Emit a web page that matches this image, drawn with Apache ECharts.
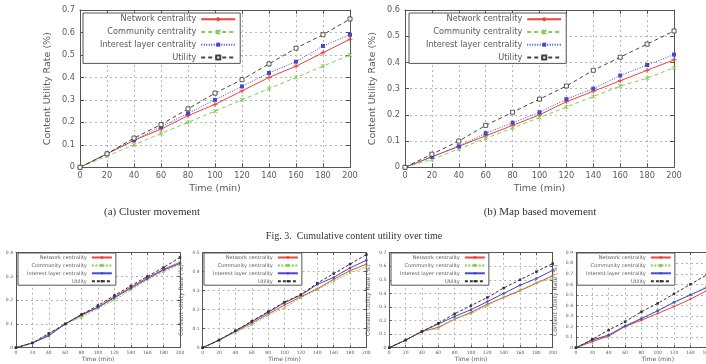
<!DOCTYPE html>
<html>
<head>
<meta charset="utf-8">
<script src="https://cdn.jsdelivr.net/npm/echarts@6/dist/echarts.min.js"></script>
<style>
  html, body { margin: 0; padding: 0; background: #fff; }
  #main { width: 706px; height: 364px; }
</style>
</head>
<body>
<div id="main"></div>
<script>
// x 轴: 时间 (min)
var timeSteps = [0, 20, 40, 60, 80, 100, 120, 140, 160, 180, 200];
var seriesNames = ['Network centrality', 'Community centrality', 'Interest layer centrality', 'Utility'];

// (a) Cluster movement
var clusterNetwork   = [0, 0.06, 0.12, 0.17, 0.23, 0.28, 0.34, 0.40, 0.45, 0.51, 0.57];
var clusterCommunity = [0, 0.05, 0.10, 0.15, 0.20, 0.25, 0.30, 0.35, 0.40, 0.45, 0.50];
var clusterInterest  = [0, 0.06, 0.12, 0.18, 0.24, 0.30, 0.36, 0.42, 0.47, 0.54, 0.59];
var clusterUtility   = [0, 0.06, 0.13, 0.19, 0.26, 0.33, 0.39, 0.46, 0.53, 0.59, 0.66];

// (b) Map based movement
var mapNetwork   = [0, 0.04, 0.08, 0.12, 0.16, 0.20, 0.25, 0.29, 0.33, 0.37, 0.41];
var mapCommunity = [0, 0.03, 0.07, 0.11, 0.15, 0.19, 0.23, 0.27, 0.31, 0.34, 0.38];
var mapInterest  = [0, 0.04, 0.08, 0.13, 0.17, 0.21, 0.26, 0.30, 0.35, 0.39, 0.43];
var mapUtility   = [0, 0.05, 0.10, 0.16, 0.21, 0.26, 0.31, 0.37, 0.42, 0.47, 0.52];

// 下面一排小图
var row1Network   = [0, 0.02, 0.053, 0.10, 0.136, 0.17, 0.215, 0.254, 0.295, 0.33, 0.36];
var row1Community = [0, 0.02, 0.06, 0.10, 0.128, 0.165, 0.20, 0.243, 0.285, 0.32, 0.35];
var row1Interest  = [0, 0.02, 0.05, 0.10, 0.14, 0.17, 0.21, 0.25, 0.29, 0.327, 0.355];
var row1Utility   = [0, 0.02, 0.06, 0.10, 0.14, 0.178, 0.22, 0.26, 0.30, 0.338, 0.38];

var row2Network   = [0, 0.04, 0.085, 0.13, 0.177, 0.225, 0.268, 0.31, 0.36, 0.405, 0.44];
var row2Community = [0, 0.04, 0.08, 0.12, 0.17, 0.21, 0.263, 0.305, 0.35, 0.395, 0.425];
var row2Interest  = [0, 0.04, 0.088, 0.137, 0.186, 0.238, 0.277, 0.333, 0.37, 0.42, 0.46];
var row2Utility   = [0, 0.04, 0.09, 0.14, 0.19, 0.24, 0.28, 0.34, 0.39, 0.44, 0.49];

var row3Network   = [0, 0.056, 0.12, 0.15, 0.21, 0.26, 0.32, 0.37, 0.42, 0.475, 0.53];
var row3Community = [0, 0.056, 0.12, 0.14, 0.215, 0.25, 0.31, 0.375, 0.425, 0.48, 0.51];
var row3Interest  = [0, 0.056, 0.12, 0.175, 0.23, 0.28, 0.34, 0.40, 0.46, 0.51, 0.57];
var row3Utility   = [0, 0.056, 0.12, 0.18, 0.25, 0.31, 0.37, 0.44, 0.50, 0.56, 0.62];

var row4Network   = [0, 0.057, 0.11, 0.20, 0.26, 0.325, 0.39, 0.46, 0.54, 0.61, 0.68];
var row4Community = [0, 0.073, 0.12, 0.205, 0.28, 0.35, 0.43, 0.50, 0.58, 0.65, 0.72];
var row4Interest  = [0, 0.073, 0.12, 0.205, 0.275, 0.35, 0.43, 0.50, 0.57, 0.64, 0.71];
var row4Utility   = [0, 0.08, 0.167, 0.246, 0.34, 0.42, 0.51, 0.60, 0.69, 0.78, 0.87];

// y 轴上限
var yMaxList = [0.7, 0.6, 0.4, 0.5, 0.7, 0.9];

var captionA = '(a) Cluster movement';
var captionB = '(b) Map based movement';
var figCaption = 'Fig. 3.  Cumulative content utility over time';

var frameColor = '#555';
var textColor = '#5a5a5a';
var gridColor = '#b4b4b4';
var plusPath = 'path://M5,0L5,10M0,5L10,5';
var crossPath = 'path://M0,0L10,10M10,0L0,10M5,0L5,10';
var squarePath = 'path://M0,0L10,0L10,10L0,10Z';

// fill 为 null 时用线的颜色填充
var bigStyles = [
  { color: '#e8453c', type: 'solid', symbol: plusPath, size: 5, border: 1, fill: null },
  { color: '#86cc55', type: [4, 3], symbol: crossPath, size: 4, border: 1, fill: null },
  { color: '#4848c8', type: [1, 1.5], symbol: 'rect', size: 4, border: 0, fill: null },
  { color: '#444', type: [4, 3], symbol: squarePath, size: 4, border: 0.9, fill: '#fff' }
];
var smallStyles = [
  { color: '#e8453c', type: 'solid', symbol: plusPath, size: 3, border: 0.8, fill: null },
  { color: '#86cc55', type: [2, 1.5], symbol: crossPath, size: 2.5, border: 0.8, fill: null },
  { color: '#4848c8', type: 'solid', symbol: 'circle', size: 2.5, border: 0, fill: null },
  { color: '#333', type: [3, 2], symbol: 'rect', size: 2.5, border: 0, fill: null }
];

var panels = [
  { left: 80, top: 10, width: 270, height: 157.3, big: true, lgLeft: 83, lgTop: 13, lgPadLeft: 17, yNameGap: 27,
    values: [clusterNetwork, clusterCommunity, clusterInterest, clusterUtility] },
  { left: 405, top: 10, width: 269, height: 157.3, big: true, lgLeft: 409, lgTop: 13, lgPadLeft: 17, yNameGap: 27,
    values: [mapNetwork, mapCommunity, mapInterest, mapUtility] },
  // 第一个小图的 y 轴名在画面左侧之外
  { left: 16, top: 252.7, width: 164, height: 95, big: false, lgLeft: 18, lgTop: 253, yNameGap: 18,
    values: [row1Network, row1Community, row1Interest, row1Utility] },
  { left: 202.7, top: 252.7, width: 163.7, height: 95, big: false, lgLeft: 204, lgTop: 253, yNameGap: 18,
    values: [row2Network, row2Community, row2Interest, row2Utility] },
  { left: 389.3, top: 252.7, width: 163.4, height: 95, big: false, lgLeft: 391, lgTop: 253, yNameGap: 18,
    values: [row3Network, row3Community, row3Interest, row3Utility] },
  { left: 576, top: 252.7, width: 163.4, height: 95, big: false, lgLeft: 577, lgTop: 253, yNameGap: 18,
    values: [row4Network, row4Community, row4Interest, row4Utility] }
];

var option = {
  animation: false,
  backgroundColor: '#fff',
  grid: [], xAxis: [], yAxis: [], legend: [], series: [],
  graphic: [
    { type: 'text', x: 152, y: 212, style: { text: captionA, font: '11px "Liberation Serif"', fill: '#333', align: 'center', verticalAlign: 'middle' } },
    { type: 'text', x: 540, y: 212, style: { text: captionB, font: '11px "Liberation Serif"', fill: '#333', align: 'center', verticalAlign: 'middle' } },
    { type: 'text', x: 354, y: 236, style: { text: figCaption, font: '10px "Liberation Serif"', fill: '#333', align: 'center', verticalAlign: 'middle' } }
  ]
};

panels.forEach(function (p, i) {
  var big = p.big;
  var tickFont = big ? 8.2 : 4.5;
  var nameFont = big ? 9.5 : 6;
  var tickLen = big ? 4 : 2.5;
  var styles = big ? bigStyles : smallStyles;
  var yMax = yMaxList[i];

  // 不让 v6 自动把坐标轴挤进画布 (右下角小图本来就被裁掉)
  option.grid.push({ left: p.left, top: p.top, width: p.width, height: p.height, containLabel: false, outerBoundsMode: 'none' });

  var xi = option.xAxis.length;
  var yi = option.yAxis.length;
  var lineCfg = { onZero: false, lineStyle: { color: frameColor, width: 1 } };
  var tickCfg = { inside: true, length: tickLen, lineStyle: { color: frameColor } };

  // 下方 x 轴
  option.xAxis.push({
    gridIndex: i, type: 'value', min: 0, max: 200, interval: 20,
    name: 'Time (min)', nameLocation: 'middle', nameGap: big ? 16 : 9,
    nameTextStyle: { fontFamily: 'DejaVu Sans', fontSize: nameFont, color: textColor },
    axisLine: lineCfg, axisTick: tickCfg,
    axisLabel: { fontFamily: 'DejaVu Sans', fontSize: tickFont, color: textColor, margin: big ? 5 : 3 },
    splitLine: { show: true, lineStyle: { color: gridColor, type: [2, 3], width: 1 } }
  });
  // 上方镜像轴, 只画刻度
  option.xAxis.push({
    gridIndex: i, type: 'value', position: 'top', min: 0, max: 200, interval: 20,
    axisLine: lineCfg, axisTick: tickCfg, axisLabel: { show: false }, splitLine: { show: false }
  });
  // 左 y 轴
  option.yAxis.push({
    gridIndex: i, type: 'value', min: 0, max: yMax, interval: 0.1,
    name: 'Content Utility Rate (%)', nameLocation: 'middle', nameGap: p.yNameGap,
    nameTextStyle: { fontFamily: 'DejaVu Sans', fontSize: nameFont, color: textColor },
    axisLine: lineCfg, axisTick: tickCfg,
    axisLabel: { fontFamily: 'DejaVu Sans', fontSize: tickFont, color: textColor, margin: big ? 5 : 3 },
    splitLine: { show: true, lineStyle: { color: gridColor, type: [2, 3], width: 1 } }
  });
  option.yAxis.push({
    gridIndex: i, type: 'value', position: 'right', min: 0, max: yMax, interval: 0.1,
    axisLine: lineCfg, axisTick: tickCfg, axisLabel: { show: false }, splitLine: { show: false }
  });

  var names = [];
  seriesNames.forEach(function (base, k) {
    var st = styles[k];
    var name = base + '#' + i;
    names.push(name);
    option.series.push({
      name: name, type: 'line', xAxisIndex: xi, yAxisIndex: yi,
      data: timeSteps.map(function (t, j) { return [t, p.values[k][j]]; }),
      symbol: st.symbol, symbolSize: st.size, showAllSymbol: true,
      itemStyle: { color: st.fill || st.color, borderColor: st.color, borderWidth: st.border },
      lineStyle: { color: st.color, width: 1, type: st.type },
      emphasis: { disabled: true },
      z: 3 + k
    });
  });

  option.legend.push({
    data: names, orient: 'vertical', align: 'right',
    left: p.lgLeft, top: p.lgTop, selectedMode: false,
    formatter: function (n) { return n.split('#')[0]; },
    itemWidth: big ? 34 : 20, itemHeight: big ? 5 : 3, itemGap: big ? 2.7 : 1.9,
    padding: big ? [1.3, 4, 1, p.lgPadLeft] : [1.5, 3, 1, 9],
    borderColor: frameColor, borderWidth: 1, backgroundColor: '#fff',
    textStyle: { fontFamily: 'DejaVu Sans', fontSize: big ? 8.2 : 5.1, color: textColor, lineHeight: big ? 10 : 6 }
  });
});

var chart = echarts.init(document.getElementById('main'));
chart.setOption(option);
</script>
</body>
</html>
